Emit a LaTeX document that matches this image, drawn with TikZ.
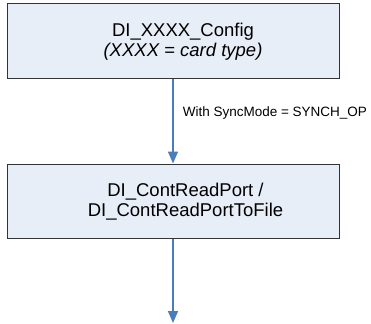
\documentclass[tikz,border=0pt]{standalone}
\usepackage{fontspec}
\setmainfont{Liberation Sans}
\usetikzlibrary{arrows.meta}
\definecolor{boxfill}{HTML}{E8EEF8}
\definecolor{flowblue}{HTML}{4A7EBB}
\begin{document}
\begin{tikzpicture}[x=1pt,y=-1pt,
  procbox/.style={draw=black!80,line width=1pt,fill=boxfill,inner sep=0pt,
    minimum width=332pt,minimum height=75pt},
  boxtext/.style={align=center,inner sep=0pt,font=\fontsize{18.5}{20}\selectfont},
  flow/.style={draw=flowblue,line width=1.6pt,
    -{Triangle[width=10pt,length=12pt]}},
  flowlabel/.style={anchor=west,inner sep=0pt,font=\fontsize{13.5}{15}\selectfont}]
\useasboundingbox (0,0) rectangle (371,323);
% process boxes
\node[procbox] (cfg) at (173,41.5) {};
\node[boxtext] (cfgtxt) at (183,42) {DI\_XXXX\_Config\\\textit{(XXXX = card type)}};
\node[procbox,minimum height=74pt] (rd) at (173,201) {};
\node[boxtext] (rdtxt) at (185.5,202) {DI\_ContReadPort /\\DI\_ContReadPortToFile};
\coordinate (out) at (173,323);
% connectors
\draw[flow] (cfg.south) -- (rd.north)
  node[flowlabel,pos=0.4,xshift=9pt] (cond) {With SyncMode = SYNCH\_OP};
\draw[flow] (rd.south) -- (out);
\end{tikzpicture}
\end{document}
